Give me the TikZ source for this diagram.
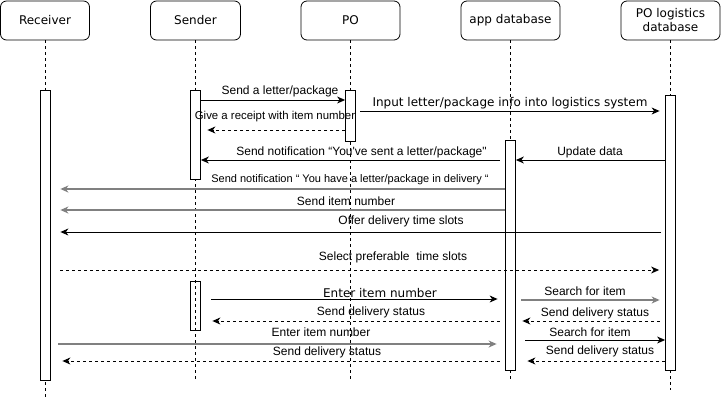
\documentclass[tikz,border=0pt]{standalone}
\usepackage{fontspec}
\usetikzlibrary{arrows.meta, positioning}
\newfontfamily\headfont{DejaVu Sans}
\newfontfamily\lblfont{Liberation Sans}
\definecolor{msggray}{HTML}{808080}

\begin{document}
\begin{tikzpicture}[x=1pt, y=-1pt,
                    actor node/.style={rectangle, rounded corners=6pt, draw,
                      line width=0.8pt, minimum height=39pt, align=center,
                      font=\headfont\fontsize{12}{14}\selectfont},
                    bar node/.style={rectangle, draw, fill=white,
                      line width=0.8pt, minimum width=10pt, inner sep=0pt},
                    life/.style={draw, line width=0.7pt, dash pattern=on 3pt off 3pt},
                    msg/.style={draw, line width=0.9pt,
                      -{Stealth[length=8pt, width=7pt, inset=2.5pt]}},
                    reply/.style={msg, dash pattern=on 3pt off 3pt},
                    gray msg/.style={msg, draw=msggray, line width=1.6pt},
                    lbl/.style={inner sep=0pt, font=\lblfont\fontsize{12}{14}\selectfont},
                    big lbl/.style={inner sep=0pt, font=\headfont\fontsize{12}{14}\selectfont}]

  \useasboundingbox (0,0) rectangle (722,402);

  % participants
  \node[actor node, minimum width=89pt] (recv) at (45,20.5) {Receiver};
  \node[actor node, minimum width=90pt] (send) at (195.5,20.5) {Sender};
  \node[actor node, minimum width=99pt] (po) at (350.5,20.5) {PO};
  \node[actor node, minimum width=99pt] (appdb) at (510.5,20.5) {app database};
  \node[actor node, minimum width=99pt] (logdb) at (670.5,20.5) {PO logistics\\database};

  % lifelines
  \coordinate (recvEnd) at (45,397);
  \coordinate (sendEnd) at (195.5,380);
  \coordinate (poEnd) at (350.5,380);
  \coordinate (appEnd) at (510.5,380);
  \coordinate (logEnd) at (670.5,390);
  \draw[life] (recv) -- (recvEnd);
  \draw[life] (send) -- (sendEnd);
  \draw[life] (po) -- (poEnd);
  \draw[life] (appdb) -- (appEnd);
  \draw[life] (logdb) -- (logEnd);

  % activation bars
  \node[bar node, minimum height=290pt] (rBar) at (45,235) {};
  \node[bar node, minimum height=89pt] (sBar1) at (195.5,134.75) {};
  \node[bar node, minimum height=49pt, fill=none] (sBar2) at (195.5,305.5) {};
  \node[bar node, minimum height=51pt] (poBar) at (350.5,115.5) {};
  \node[bar node, minimum height=230pt] (dbBar) at (510.5,255) {};
  \node[bar node, minimum height=275pt] (logBar) at (670.5,232.5) {};

  % message rows
  \foreach \n/\y in {1/100, 2/130, 3/111, 4/160, 5/160, 6/189, 7/210, 8/232, 9/270,
                     10/299, 11/321, 12/300, 13/321, 14/344, 15/361, 16/340, 17/361}
    \coordinate (m\n) at (0,\y);

  \draw[msg] (sBar1.east |- m1) -- (poBar.west |- m1);
  \draw[reply, shorten >=6.5pt] (poBar.west |- m2) -- (sBar1.east |- m2);
  \draw[msg, shorten <=4.5pt, shorten >=5.5pt] (poBar.east |- m3) -- (logBar.west |- m3);
  \draw[msg, shorten <=5.5pt] (dbBar.west |- m4) -- (sBar1.east |- m4);
  \draw[msg] (logBar.west |- m5) -- (dbBar.east |- m5);
  \draw[gray msg, shorten >=10pt] (dbBar.west |- m6) -- (rBar.east |- m6);
  \draw[gray msg, shorten >=10pt] (dbBar.west |- m7) -- (rBar.east |- m7);
  \draw[msg, shorten <=4pt, shorten >=10pt] (logBar.west |- m8) -- (rBar.east |- m8);
  \draw[reply, shorten <=10pt, shorten >=6pt] (rBar.east |- m9) -- (logBar.west |- m9);
  \draw[msg, shorten <=10.5pt, shorten >=7.5pt] (sBar2.east |- m10) -- (dbBar.west |- m10);
  \draw[reply, shorten <=5.5pt, shorten >=11.5pt] (dbBar.west |- m11) -- (sBar2.east |- m11);
  \draw[gray msg, line width=1.2pt, shorten <=5.5pt, shorten >=5.5pt] (dbBar.east |- m12) -- (logBar.west |- m12);
  \draw[reply, shorten <=5.5pt, shorten >=6.5pt] (logBar.west |- m13) -- (dbBar.east |- m13);
  \draw[gray msg, shorten <=8pt, shorten >=8.5pt] (rBar.east |- m14) -- (dbBar.west |- m14);
  \draw[reply, shorten <=5.5pt, shorten >=12pt] (dbBar.west |- m15) -- (rBar.east |- m15);
  \draw[msg, shorten <=9.5pt] (dbBar.east |- m16) -- (logBar.west |- m16);
  \draw[reply, shorten >=11.5pt] (logBar.west |- m17) -- (dbBar.east |- m17);

  % message labels
  \node[lbl] (l1) at (280,91) {Send a letter/package};
  \node[lbl, font=\lblfont\fontsize{11.4}{14}\selectfont] (l2) at (275,117) {Give a receipt with item number};
  \node[big lbl] (l3) at (510,103) {Input letter/package info into logistics system};
  \node[lbl] (l4) at (361.5,152) {Send notification “You\symbol{39}ve sent a letter/package\symbol{34}};
  \node[lbl] (l5) at (590,152) {Update data};
  \node[lbl, font=\lblfont\fontsize{11}{14}\selectfont] (l6) at (350,180) {Send notification “ You have a letter/package in delivery “};
  \node[lbl] (l7) at (346,201) {Send item number};
  \node[lbl] (l8) at (401,221) {Offer delivery time slots};
  \node[lbl] (l9) at (393,257) {Select preferable\ \ time slots};
  \node[big lbl] (l10) at (380,293) {Enter item number};
  \node[lbl] (l11) at (371,312) {Send delivery status};
  \node[lbl] (l12) at (585,291) {Search for item};
  \node[lbl] (l13) at (595,313) {Send delivery status};
  \node[lbl] (l14) at (321,332) {Enter item number};
  \node[lbl] (l15) at (327,352) {Send delivery status};
  \node[lbl] (l16) at (590,332) {Search for item};
  \node[lbl] (l17) at (600,351) {Send delivery status};
\end{tikzpicture}
\end{document}
